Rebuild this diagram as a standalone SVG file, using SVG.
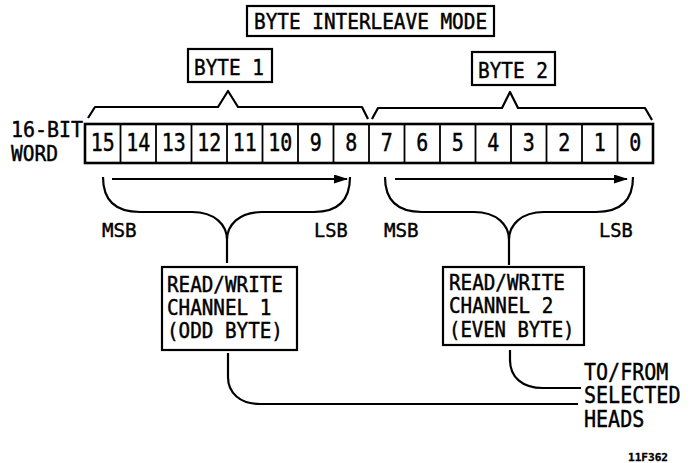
<svg xmlns="http://www.w3.org/2000/svg" width="693" height="463" viewBox="0 0 693 463">
<style>
text{font-family:"DejaVu Sans Mono","Liberation Mono",monospace;fill:#000;stroke:#000;stroke-width:0.45}
.t{font-size:20.6px}
.b{font-size:22px}
.s{font-size:19.2px}
.h{font-size:23.3px}
.d{font-size:24px;text-anchor:middle}
.box{fill:#fff;stroke:#000;stroke-width:2.2}
.ln{fill:none;stroke:#000;stroke-width:2.2;stroke-linejoin:round}
.cell{fill:none;stroke:#000;stroke-width:1.8}
</style>
<defs>
<marker id="ah" markerWidth="14" markerHeight="9" refX="13" refY="4.5" orient="auto" markerUnits="userSpaceOnUse">
<path d="M0,0 L14,4.5 L0,9 Z" fill="#000"/>
</marker>
</defs>
<rect width="693" height="463" fill="#fff"/>

<g id="title">
<rect class="box" x="247" y="6" width="247" height="30"/>
<text class="t" transform="matrix(0.94,0,0,1,254,29)">BYTE INTERLEAVE MODE</text>
</g>

<g id="byte1">
<rect class="box" x="188" y="49" width="84" height="33"/>
<text class="b" transform="matrix(0.88,0,0,1,194,74.5)">BYTE 1</text>
</g>

<g id="byte2">
<rect class="box" x="472" y="52" width="83" height="33"/>
<text class="b" transform="matrix(0.88,0,0,1,478,77.5)">BYTE 2</text>
</g>

<g id="wordlabel">
<text class="t" transform="matrix(0.97,0,0,1,11,137)">16-BIT</text>
<text class="t" transform="matrix(0.95,0,0,1,11,161)">WORD</text>
</g>

<g id="word">
<rect x="85" y="124" width="568" height="39" fill="none" stroke="#000" stroke-width="2.6"/>
<path class="cell" d="M120.5,124V163M156,124V163M191.5,124V163M227,124V163M262.5,124V163M298,124V163M333.5,124V163M369,124V163M404.5,124V163M440,124V163M475.5,124V163M511,124V163M546.5,124V163M582,124V163M617.5,124V163"/>
<text class="d" transform="matrix(0.83,0,0,1,102.75,151)">15</text>
<text class="d" transform="matrix(0.83,0,0,1,138.25,151)">14</text>
<text class="d" transform="matrix(0.83,0,0,1,173.75,151)">13</text>
<text class="d" transform="matrix(0.83,0,0,1,209.25,151)">12</text>
<text class="d" transform="matrix(0.83,0,0,1,244.75,151)">11</text>
<text class="d" transform="matrix(0.83,0,0,1,280.25,151)">10</text>
<text class="d" transform="matrix(0.83,0,0,1,315.75,151)">9</text>
<text class="d" transform="matrix(0.83,0,0,1,351.25,151)">8</text>
<text class="d" transform="matrix(0.83,0,0,1,386.75,151)">7</text>
<text class="d" transform="matrix(0.83,0,0,1,422.25,151)">6</text>
<text class="d" transform="matrix(0.83,0,0,1,457.75,151)">5</text>
<text class="d" transform="matrix(0.83,0,0,1,493.25,151)">4</text>
<text class="d" transform="matrix(0.83,0,0,1,528.75,151)">3</text>
<text class="d" transform="matrix(0.83,0,0,1,564.25,151)">2</text>
<text class="d" transform="matrix(0.83,0,0,1,599.75,151)">1</text>
<text class="d" transform="matrix(0.83,0,0,1,635.25,151)">0</text>
</g>

<g id="bitlabels">
<text class="s" transform="matrix(1,0,0,1,102,237)">MSB</text>
<text class="s" transform="matrix(0.97,0,0,1,314,237)">LSB</text>
<text class="s" transform="matrix(1,0,0,1,384,237)">MSB</text>
<text class="s" transform="matrix(0.97,0,0,1,599,237)">LSB</text>
</g>

<g id="channel1">
<rect class="box" x="162" y="267" width="135" height="83"/>
<text class="t" transform="matrix(0.935,0,0,1,167,292)">READ/WRITE</text>
<text class="t" transform="matrix(0.935,0,0,1,167,315)">CHANNEL 1</text>
<text class="t" transform="matrix(0.935,0,0,1,167,338)">(ODD BYTE)</text>
</g>

<g id="channel2">
<rect class="box" x="443" y="267" width="141" height="78"/>
<text class="t" transform="matrix(0.935,0,0,1,449,290)">READ/WRITE</text>
<text class="t" transform="matrix(0.935,0,0,1,449,313)">CHANNEL 2</text>
<text class="t" transform="matrix(0.92,0,0,1,449,337)">(EVEN BYTE)</text>
</g>

<g id="heads">
<text class="h" transform="matrix(0.86,0,0,1,584,380)">TO/FROM</text>
<text class="h" transform="matrix(0.86,0,0,1,584,403)">SELECTED</text>
<text class="h" transform="matrix(0.86,0,0,1,584,427)">HEADS</text>
</g>

<g id="figref">
<text x="628" y="461" style="font-size:10px;font-weight:bold;stroke-width:0.3" textLength="40" lengthAdjust="spacingAndGlyphs">11F362</text>
</g>

<g id="connectors">
<path class="ln" d="M88,118 L95,107 L218,107 L228,91 L238,107 L362,107 L368,119"/>
<path class="ln" d="M372,119 L378,108 L502,108 L510,92 L518,108 L645,108 L652,120"/>
<line class="ln" x1="112" y1="179" x2="347" y2="179" marker-end="url(#ah)"/>
<line class="ln" x1="395" y1="179" x2="627" y2="179" marker-end="url(#ah)"/>
<path class="ln" d="M103,177 C103,200 115,212 140,212 L192,212 C215,212 227,225 227,240 C227,225 239,212 262,212 L314,212 C339,212 350,200 350,177 M227,240 L227,263"/>
<path class="ln" d="M385,177 C385,200 397,212 422,212 L474,212 C497,212 509,225 509,240 C509,225 521,212 544,212 L596,212 C621,212 633,200 633,177 M509,240 L509,265"/>
<path class="ln" d="M228,353 L228,377 C228,393 240,404 260,404 L578,404"/>
<path class="ln" d="M510,350 L510,360 C510,377 522,388 543,388 L581,388"/>
</g>
</svg>
